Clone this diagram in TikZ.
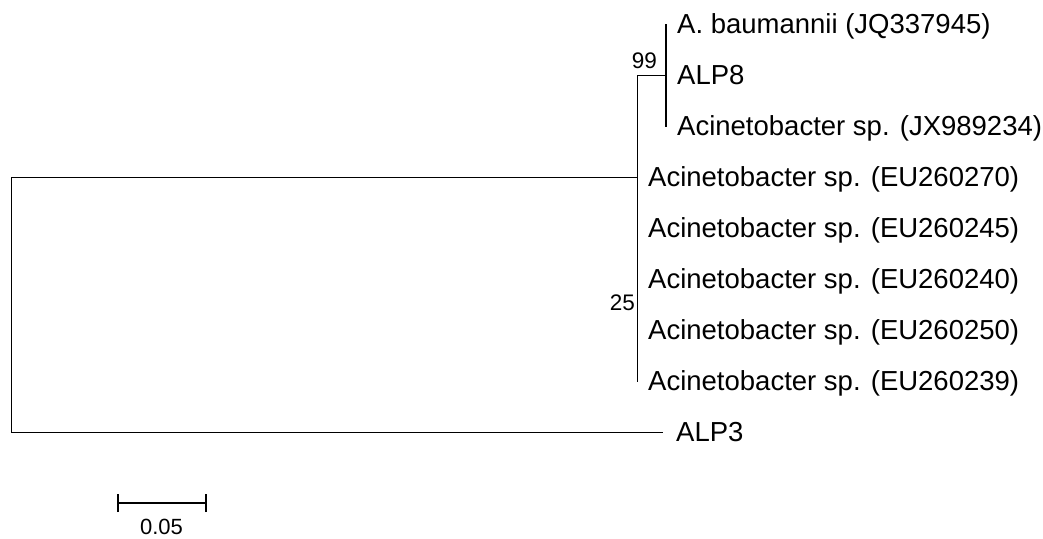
\documentclass[tikz,border=0pt]{standalone}
\usepackage{fontspec}
\setmainfont{Liberation Sans}
\tikzset{
  branch/.style={line width=1.9pt, line cap=rect},
  leaf/.style={anchor=base west, inner sep=0pt, font=\fontsize{27.5}{32}\selectfont},
  boot/.style={anchor=base east, inner sep=0pt, font=\fontsize{22.5}{27}\selectfont},
}
\begin{document}
\begin{tikzpicture}[x=1pt,y=-1pt]
\useasboundingbox (0,0) rectangle (1043,538);
% leaf labels
\node[leaf] (l1) at (677,33.5) {A. baumannii (JQ337945)};
\node[leaf] (l2) at (677,84.5) {ALP8};
\node[leaf] (l3) at (677,135.5) {Acinetobacter sp. (JX989234)};
\node[leaf] (l4) at (648,186.5) {Acinetobacter sp. (EU260270)};
\node[leaf] (l5) at (648,237.5) {Acinetobacter sp. (EU260245)};
\node[leaf] (l6) at (648,288.5) {Acinetobacter sp. (EU260240)};
\node[leaf] (l7) at (648,339.5) {Acinetobacter sp. (EU260250)};
\node[leaf] (l8) at (648,390.5) {Acinetobacter sp. (EU260239)};
\node[leaf] (l9) at (676,441.5) {ALP3};
% internal nodes
\coordinate (rootT) at (11.5,177.5);
\coordinate (rootB) at (11.5,432.5);
\coordinate (n25) at (637.5,177.5);
\coordinate (n25T) at (637.5,75.5);
\coordinate (n25B) at (637.5,381);
\coordinate (n99) at (666,75.5);
\coordinate (n99T) at (666,24.5);
\coordinate (n99B) at (666,126.5);
\coordinate (alp3) at (662,432.5);
% branches
\draw[branch] (rootT) -- (rootB);
\draw[branch] (rootT) -- (n25);
\draw[branch] (rootB) -- (alp3);
\draw[branch] (n25T) -- (n25B);
\draw[branch] (n25T) -- (n99);
\draw[branch] (n99T) -- (n99B);
% bootstrap values
\node[boot] (b99) at (657,68) {99};
\node[boot] (b25) at (635,310.5) {25};
% scale bar
\coordinate (sbL) at (118,503);
\coordinate (sbR) at (206,503);
\draw[branch, line cap=butt] (sbL) -- (sbR);
\draw[branch, line cap=butt] ([yshift=-9]sbL) -- ([yshift=9]sbL);
\draw[branch, line cap=butt] ([yshift=-9]sbR) -- ([yshift=9]sbR);
\node[anchor=base, inner sep=0pt, font=\fontsize{22}{26}\selectfont] (sbt) at (161.5,534) {0.05};
\end{tikzpicture}
\end{document}
